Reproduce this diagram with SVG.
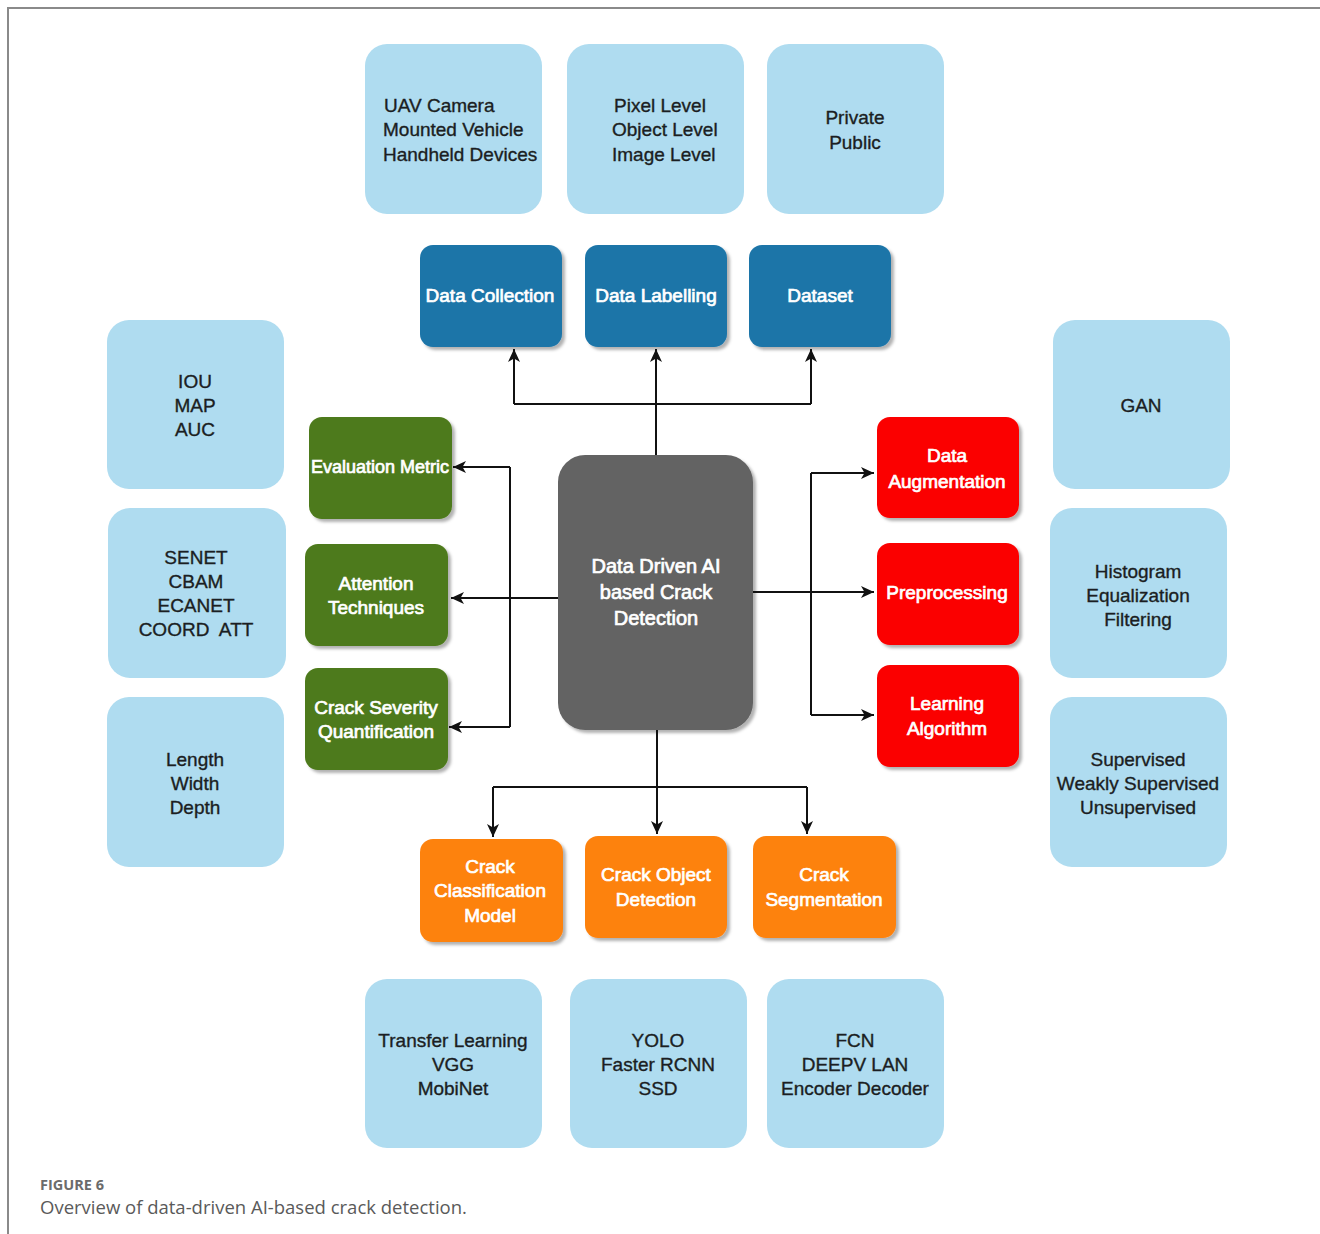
<svg xmlns="http://www.w3.org/2000/svg" width="1320" height="1234" viewBox="0 0 1320 1234">
<style>
.lb{fill:#afdcf0}
.dk{font-family:"Liberation Sans",Arial,sans-serif;font-size:19px;fill:#1b1e22;stroke:#1b1e22;stroke-width:0.35;text-anchor:middle;dominant-baseline:central}
.wt{font-family:"Liberation Sans",Arial,sans-serif;font-size:19px;fill:#fff;stroke:#fff;stroke-width:0.7;text-anchor:middle;dominant-baseline:central}
.blue{fill:#1b74a8}
.green{fill:#4d7a1a}
.red{fill:#fb0000}
.orange{fill:#fd8210}
.gray{fill:#646464}
.conn path{fill:none;stroke:#111;stroke-width:2}
.cap1{font-family:"Open Sans","Liberation Sans",sans-serif;font-size:14.5px;font-weight:bold;fill:#6b6b6b}
.cap2{font-family:"Open Sans","Liberation Sans",sans-serif;font-size:18.5px;fill:#5a5a5a}
</style>
<defs>
<marker id="arr" markerUnits="userSpaceOnUse" markerWidth="14" markerHeight="12" refX="13" refY="6" orient="auto">
<path d="M0,0 L13,6 L0,12 L3.5,6 z" fill="#111"/>
</marker>
<filter id="sh" x="-10%" y="-10%" width="125%" height="125%">
<feDropShadow dx="3" dy="3" stdDeviation="1.5" flood-color="#000" flood-opacity="0.3"/>
</filter>
</defs>
<rect width="1320" height="1234" fill="#fff"/>
<path d="M8,1234 V8 H1320" fill="none" stroke="#8a8a8a" stroke-width="2"/>

<g id="top-info-1"><rect class="lb" x="365" y="44" width="177" height="170" rx="22"/>
<text class="dk" style="text-anchor:start" x="384" y="105">UAV Camera</text>
<text class="dk" style="text-anchor:start" x="383" y="129">Mounted Vehicle</text>
<text class="dk" style="text-anchor:start" x="383" y="154">Handheld Devices</text></g>
<g id="top-info-2"><rect class="lb" x="567" y="44" width="177" height="170" rx="22"/>
<text class="dk" style="text-anchor:start" x="614" y="105">Pixel Level</text>
<text class="dk" style="text-anchor:start" x="612" y="129">Object Level</text>
<text class="dk" style="text-anchor:start" x="612" y="154">Image Level</text></g>
<g id="top-info-3"><rect class="lb" x="767" y="44" width="177" height="170" rx="22"/>
<text class="dk" x="855" y="117">Private</text>
<text class="dk" x="855" y="142">Public</text></g>

<g id="left-info-1"><rect class="lb" x="107" y="320" width="177" height="169" rx="22"/>
<text class="dk" x="195" y="381">IOU</text><text class="dk" x="195" y="405">MAP</text><text class="dk" x="195" y="429">AUC</text></g>
<g id="left-info-2"><rect class="lb" x="108" y="508" width="178" height="170" rx="22"/>
<text class="dk" x="196" y="557">SENET</text><text class="dk" x="196" y="581">CBAM</text><text class="dk" x="196" y="605">ECANET</text><text class="dk" x="196" y="629" xml:space="preserve">COORD  ATT</text></g>
<g id="left-info-3"><rect class="lb" x="107" y="697" width="177" height="170" rx="22"/>
<text class="dk" x="195" y="759">Length</text><text class="dk" x="195" y="783">Width</text><text class="dk" x="195" y="807">Depth</text></g>

<g id="right-info-1"><rect class="lb" x="1053" y="320" width="177" height="169" rx="22"/>
<text class="dk" x="1141" y="405">GAN</text></g>
<g id="right-info-2"><rect class="lb" x="1050" y="508" width="177" height="170" rx="22"/>
<text class="dk" x="1138" y="571">Histogram</text><text class="dk" x="1138" y="595">Equalization</text><text class="dk" x="1138" y="619">Filtering</text></g>
<g id="right-info-3"><rect class="lb" x="1050" y="697" width="177" height="170" rx="22"/>
<text class="dk" x="1138" y="759">Supervised</text><text class="dk" x="1138" y="783">Weakly Supervised</text><text class="dk" x="1138" y="807">Unsupervised</text></g>

<g id="bottom-info-1"><rect class="lb" x="365" y="979" width="177" height="169" rx="22"/>
<text class="dk" x="453" y="1040">Transfer Learning</text><text class="dk" x="453" y="1064">VGG</text><text class="dk" x="453" y="1088">MobiNet</text></g>
<g id="bottom-info-2"><rect class="lb" x="570" y="979" width="177" height="169" rx="22"/>
<text class="dk" x="658" y="1040">YOLO</text><text class="dk" x="658" y="1064">Faster RCNN</text><text class="dk" x="658" y="1088">SSD</text></g>
<g id="bottom-info-3"><rect class="lb" x="767" y="979" width="177" height="169" rx="22"/>
<text class="dk" x="855" y="1040">FCN</text><text class="dk" x="855" y="1064">DEEPV LAN</text><text class="dk" x="855" y="1088">Encoder Decoder</text></g>

<g id="data-collection"><rect class="blue" filter="url(#sh)" x="420" y="245" width="142" height="102" rx="13"/>
<text class="wt" x="490" y="295">Data Collection</text></g>
<g id="data-labelling"><rect class="blue" filter="url(#sh)" x="585" y="245" width="142" height="102" rx="13"/>
<text class="wt" x="656" y="295">Data Labelling</text></g>
<g id="dataset"><rect class="blue" filter="url(#sh)" x="749" y="245" width="142" height="102" rx="13"/>
<text class="wt" x="820" y="295">Dataset</text></g>

<g id="evaluation-metric"><rect class="green" filter="url(#sh)" x="309" y="417" width="143" height="102" rx="13"/>
<text class="wt" style="font-size:18px" x="380" y="467">Evaluation Metric</text></g>
<g id="attention-techniques"><rect class="green" filter="url(#sh)" x="305" y="544" width="143" height="102" rx="13"/>
<text class="wt" x="376" y="583">Attention</text><text class="wt" x="376" y="607">Techniques</text></g>
<g id="crack-severity"><rect class="green" filter="url(#sh)" x="305" y="668" width="143" height="102" rx="13"/>
<text class="wt" x="376" y="707">Crack Severity</text><text class="wt" x="376" y="731">Quantification</text></g>

<g id="data-augmentation"><rect class="red" filter="url(#sh)" x="877" y="417" width="142" height="101" rx="13"/>
<text class="wt" x="947" y="455">Data</text><text class="wt" x="947" y="481">Augmentation</text></g>
<g id="preprocessing"><rect class="red" filter="url(#sh)" x="877" y="543" width="142" height="102" rx="13"/>
<text class="wt" x="947" y="592">Preprocessing</text></g>
<g id="learning-algorithm"><rect class="red" filter="url(#sh)" x="877" y="665" width="142" height="102" rx="13"/>
<text class="wt" x="947" y="703">Learning</text><text class="wt" x="947" y="728">Algorithm</text></g>

<g id="crack-classification"><rect class="orange" filter="url(#sh)" x="420" y="839" width="143" height="103" rx="13"/>
<text class="wt" x="490" y="866">Crack</text><text class="wt" x="490" y="890">Classification</text><text class="wt" x="490" y="915">Model</text></g>
<g id="crack-object-detection"><rect class="orange" filter="url(#sh)" x="585" y="836" width="142" height="102" rx="13"/>
<text class="wt" x="656" y="874">Crack Object</text><text class="wt" x="656" y="899">Detection</text></g>
<g id="crack-segmentation"><rect class="orange" filter="url(#sh)" x="753" y="836" width="143" height="102" rx="13"/>
<text class="wt" x="824" y="874">Crack</text><text class="wt" x="824" y="899">Segmentation</text></g>

<g id="center"><rect class="gray" filter="url(#sh)" x="558" y="455" width="195" height="275" rx="27"/>
<text class="wt" style="font-size:20px" x="656" y="566">Data Driven AI</text>
<text class="wt" style="font-size:20px" x="656" y="592">based Crack</text>
<text class="wt" style="font-size:20px" x="656" y="618">Detection</text></g>

<g id="connectors" class="conn">
<path d="M656,455 V349" marker-end="url(#arr)"/>
<path d="M514,404 H811"/>
<path d="M514,404 V349" marker-end="url(#arr)"/>
<path d="M811,404 V349" marker-end="url(#arr)"/>
<path d="M558,598 H451" marker-end="url(#arr)"/>
<path d="M510,467 V727"/>
<path d="M510,467 H453" marker-end="url(#arr)"/>
<path d="M510,727 H449" marker-end="url(#arr)"/>
<path d="M753,592 H874" marker-end="url(#arr)"/>
<path d="M811,473 V715"/>
<path d="M811,473 H874" marker-end="url(#arr)"/>
<path d="M811,715 H874" marker-end="url(#arr)"/>
<path d="M657,730 V834" marker-end="url(#arr)"/>
<path d="M493,787 H807"/>
<path d="M493,787 V837" marker-end="url(#arr)"/>
<path d="M807,787 V834" marker-end="url(#arr)"/>
</g>

<text class="cap1" x="40" y="1190">FIGURE 6</text>
<text class="cap2" x="40" y="1214">Overview of data-driven AI-based crack detection.</text>
</svg>
